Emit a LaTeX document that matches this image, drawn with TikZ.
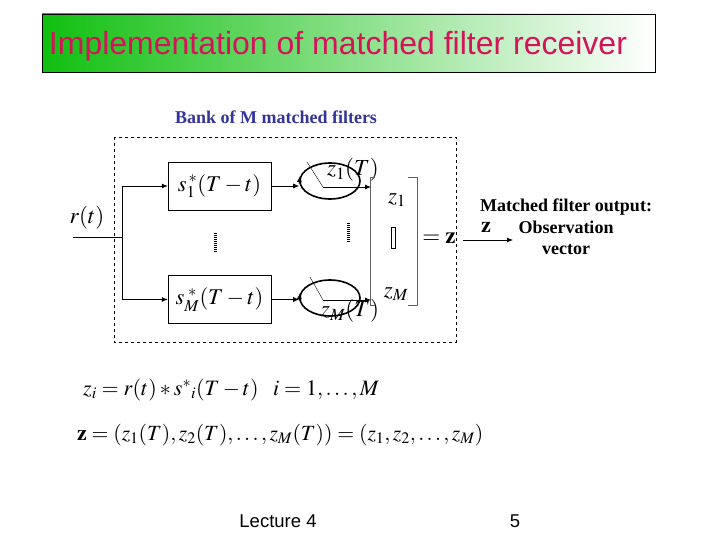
\documentclass[tikz,border=0pt]{standalone}
\usepackage{amsmath}
\usepackage{mathptmx}
\usepackage{fontspec}
\setmainfont{Liberation Serif}
\newfontfamily\arialx{Liberation Sans}
\usepackage{tikz}
\usetikzlibrary{calc,arrows.meta,positioning,shapes.geometric}
\definecolor{titlered}{HTML}{D4145A}
\definecolor{titlegreen}{HTML}{10C010}
\definecolor{bankblue}{HTML}{333399}
\definecolor{brgray}{HTML}{606060}
\tikzset{
  ar/.style={-{Latex[length=6pt,width=5pt]},thick},
  filt/.style={draw,thin,minimum width=103pt,minimum height=48pt,inner sep=0pt,font=\fontsize{22.5}{26}\selectfont},
  samp/.style={draw,ultra thick,ellipse,minimum width=60pt,minimum height=36pt,inner sep=0pt},
  lbl/.style={font=\fontsize{23}{26}\selectfont,inner sep=0pt}
}

\begin{document}
\begin{tikzpicture}[x=1pt,y=-1pt]
\useasboundingbox (0,0) rectangle (720,540);
% title bar
\shade[left color=titlegreen,right color=white] (42,14) rectangle (655,72);
\draw[thin] (42,14) rectangle (655,72);
\node[font=\arialx\fontsize{32}{36}\selectfont,text=titlered] (title) at (338,46) {Implementation of matched filter receiver};
% bank of filters
\node[font=\bfseries\fontsize{18}{21}\selectfont,text=bankblue] (bank) at (276,117) {Bank of M matched filters};
\draw[dashed,thin] (114,137) rectangle (456,342);
\node[filt] (f1) at (219.5,186) {$s_1^{\,*}(T-t)$};
\node[filt] (fM) at (219.5,299.5) {$s_M^{\;*}(T-t)$};
\coordinate (rin) at (73,237);
\coordinate (split) at (122,237);
\node[lbl] (rt) at (87,218) {$r(t)$};
\draw[thin] (rin) -- (split);
\draw[ar] (split) |- (f1.west);
\draw[ar] (split) |- (fM.west);
% samplers
\node[samp] (s1) at (330,181) {};
\node[samp] (sM) at (330,298) {};
\coordinate (p1) at (323,187);
\coordinate (pM) at (323,300);
\coordinate (o1) at (371,187);
\coordinate (oM) at (371,300);
\draw[ar] (f1.east) -- (f1.east -| s1.west);
\draw[ar] (fM.east) -- (fM.east -| sM.west);
\draw[thin] (307,162) -- (p1);
\draw[thin] (310,277) -- (pM);
\draw[ar] (p1) -- (o1);
\draw[ar] (pM) -- (oM);
\draw[-{Latex[length=6pt,width=5pt]},thick] ($(s1.west)+(0,3)$) -- ++(0.8,-8);
\draw[-{Latex[length=6pt,width=5pt]},thick] ($(sM.west)+(0,3)$) -- ++(0.8,-8);
\node[lbl] (z1T) at (353,170) {$z_1(T)$};
\node[lbl] (zMT) at (350,311) {$z_M(T)$};
% dots
\draw[line width=3pt,dash pattern=on 1pt off 1pt] (215,233) -- (215,253);
\draw[line width=3pt,dash pattern=on 1pt off 1pt] (348,223) -- (348,242);
% vector bracket
\draw[brgray,thin] (375,177) -- (370,177) -- (370,305) -- (375,305);
\draw[brgray,thin] (408,177) -- (417,177) -- (417,305) -- (408,305);
\node[lbl] (zv1) at (397,200) {$z_1$};
\node[lbl] (zvM) at (396,294) {$z_M$};
\draw[thin] (391,227) rectangle (395,248);
\node[lbl] (eqz) at (439,238) {$=\mathbf{z}$};
% output
\coordinate (a0) at (463,240);
\coordinate (a1) at (513,240);
\draw[-{Latex[length=6pt,width=5pt]},thick] (a0) -- (a1);
\node[font=\fontsize{22}{24}\selectfont,inner sep=0pt] (zo) at (486,227) {$\mathbf{z}$};
\node[font=\bfseries\fontsize{18}{21.5}\selectfont,align=center] (obs) at (566,227) {Matched filter output:\\Observation\\vector};
% equations
\node[font=\fontsize{22}{26}\selectfont,anchor=west,inner sep=0pt] (eq1) at (83,390) {$z_i=r(t)*s^{*}{}_{i}(T-t)\;\;\; i=1,\ldots,M$};
\node[font=\fontsize{21.7}{26}\selectfont,anchor=west,inner sep=0pt] (eq2) at (77,435) {$\mathbf{z}=(z_1(T),z_2(T),\ldots,z_M(T))=(z_1,z_2,\ldots,z_M)$};
% footer
\node[font=\arialx\fontsize{18.5}{21}\selectfont] (lect) at (278,521) {Lecture 4};
\node[font=\arialx\fontsize{18.5}{21}\selectfont] (pg) at (515,521) {5};
\end{tikzpicture}
\end{document}
